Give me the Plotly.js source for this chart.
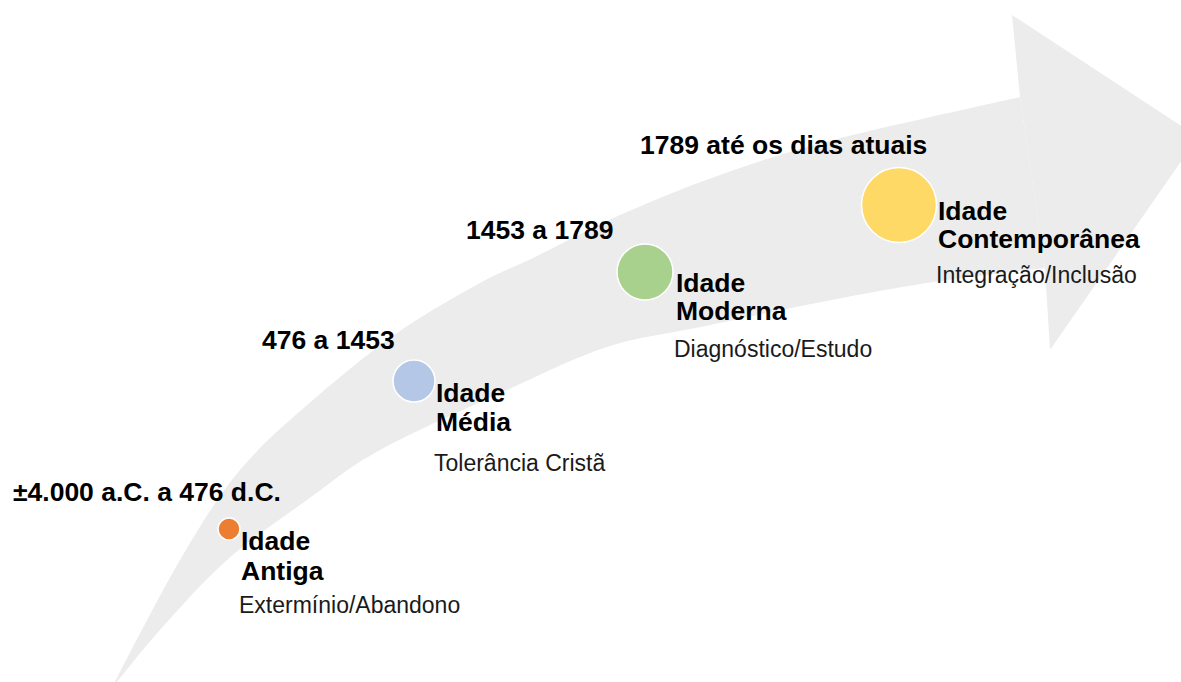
<!DOCTYPE html>
<html>
<head>
<meta charset="utf-8">
<script src="https://cdn.plot.ly/plotly-3.0.1.min.js"></script>
<style>html,body{margin:0;padding:0;background:#fff;}#chart{width:1181px;height:682px;}</style>
</head>
<body>
<div id="chart"></div>
<script>
// ---- data ----
const periodLabels = ["±4.000 a.C. a 476 d.C.", "476 a 1453", "1453 a 1789", "1789 até os dias atuais"];
const eraWord = ["Idade", "Idade", "Idade", "Idade"];
const eraNames = ["Antiga", "Média", "Moderna", "Contemporânea"];
const eraThemes = ["Extermínio/Abandono", "Tolerância Cristã", "Diagnóstico/Estudo", "Integração/Inclusão"];
const circleX = [229, 414, 645, 899];
const circleY = [529, 381, 272, 205];
const circleSize = [22, 42, 56, 75];
const circleColors = ["#ED7D31", "#B4C7E7", "#A9D18E", "#FFD966"];

// ---- layout helpers (decoration) ----
const periodPos = [[11, 492], [260, 340], [464, 230], [638, 145]];
const namePos = [[239, 541, 571, 605], [434, 393, 422, 463], [674, 283, 311, 349], [936, 211, 239, 275]];

function catmull(pts) {
  let d = "M" + pts[0][0] + "," + pts[0][1];
  for (let i = 0; i < pts.length - 1; i++) {
    const p0 = pts[Math.max(i - 1, 0)], p1 = pts[i], p2 = pts[i + 1], p3 = pts[Math.min(i + 2, pts.length - 1)];
    const c1 = [p1[0] + (p2[0] - p0[0]) / 6, p1[1] + (p2[1] - p0[1]) / 6];
    const c2 = [p2[0] - (p3[0] - p1[0]) / 6, p2[1] - (p3[1] - p1[1]) / 6];
    d += " C" + c1[0].toFixed(1) + "," + c1[1].toFixed(1) + " " + c2[0].toFixed(1) + "," + c2[1].toFixed(1) + " " + p2[0] + "," + p2[1];
  }
  return d;
}
const upper = [[108,695],[180,560],[240,470],[313,400],[397,333],[480,283],[533,258],[620,215],[720,175],[833,140],[1020,97]];
const lower = [[1045,268],[947,280],[847,297],[700,327],[607,347],[507,390],[380,450],[307,500],[227,560],[160,630],[117,682],[108,695]];
let shaftPath = catmull(upper);
shaftPath += " L1045,268" + catmull(lower).replace(/^M[^C]*/, " ") + " Z";
const headPath = "M1020,97 L1012,15 L1198,137 L1050,350 L1045,268 Z";

const FONT = "Arial, 'Liberation Sans', sans-serif";
const BOLD = 26.5, REG = 23;
const annotations = [];
for (let i = 0; i < periodLabels.length; i++) {
  annotations.push({x: periodPos[i][0], y: periodPos[i][1], xref: "x", yref: "y", text: "<b>" + periodLabels[i] + "</b>",
    showarrow: false, xanchor: "left", yanchor: "middle", font: {family: FONT, size: BOLD, color: "#000"}});
  const p = namePos[i];
  annotations.push({x: p[0], y: p[1], xref: "x", yref: "y", text: "<b>" + eraWord[i] + "</b>",
    showarrow: false, xanchor: "left", yanchor: "middle", font: {family: FONT, size: BOLD, color: "#000"}});
  annotations.push({x: p[0], y: p[2], xref: "x", yref: "y", text: "<b>" + eraNames[i] + "</b>",
    showarrow: false, xanchor: "left", yanchor: "middle", font: {family: FONT, size: BOLD, color: "#000"}});
  annotations.push({x: p[0] - 2, y: p[3], xref: "x", yref: "y", text: eraThemes[i],
    showarrow: false, xanchor: "left", yanchor: "middle", font: {family: FONT, size: REG, color: "#1a1a1a"}});
}

const trace = {
  x: circleX, y: circleY, mode: "markers", type: "scatter", hoverinfo: "skip",
  marker: {size: circleSize, color: circleColors, line: {color: "#ffffff", width: 1.5}, opacity: 1}
};

const layout = {
  width: 1181, height: 682,
  margin: {l: 0, r: 0, t: 0, b: 0},
  paper_bgcolor: "#ffffff", plot_bgcolor: "#ffffff",
  showlegend: false,
  xaxis: {range: [0, 1181], visible: false, fixedrange: true},
  yaxis: {range: [682, 0], visible: false, fixedrange: true},
  shapes: [
    {type: "path", path: shaftPath, xref: "x", yref: "y", fillcolor: "#ECECEC", line: {width: 0}, layer: "below"},
    {type: "path", path: headPath, xref: "x", yref: "y", fillcolor: "#ECECEC", line: {width: 0}, layer: "below"}
  ],
  annotations: annotations
};

Plotly.newPlot("chart", [trace], layout, {staticPlot: true, displayModeBar: false});
</script>
</body>
</html>
